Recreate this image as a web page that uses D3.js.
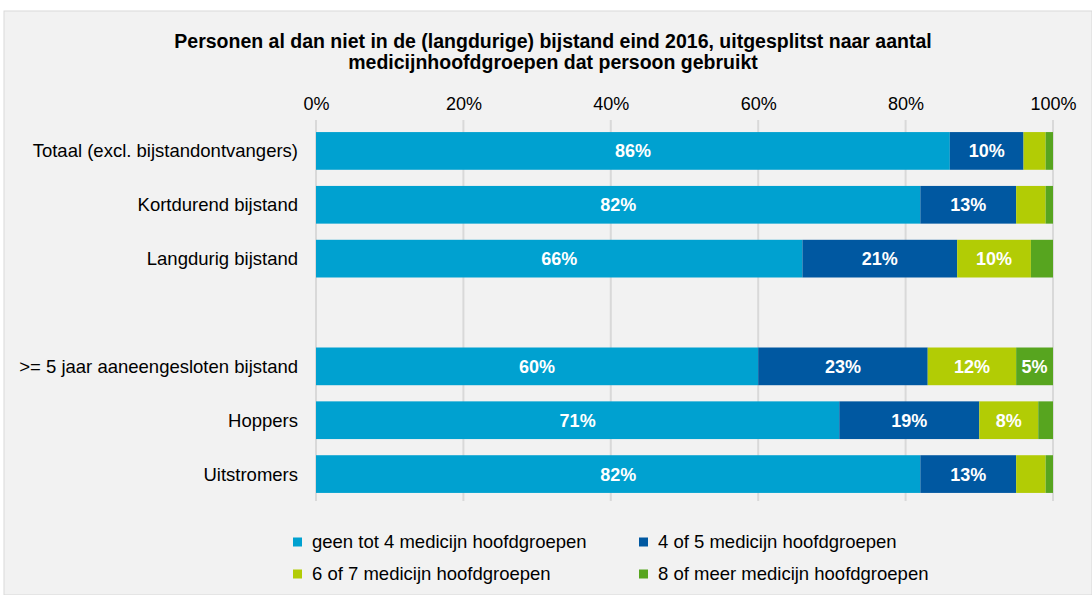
<!DOCTYPE html>
<html>
<head>
<meta charset="utf-8">
<script src="https://cdn.jsdelivr.net/npm/d3@7"></script>
<style>
  body { margin: 0; background: #fff; }
  text { font-family: "Liberation Sans", Arial, sans-serif; }
</style>
</head>
<body>
<div class="canvas"></div>
<script>
const categories = [
  "Totaal (excl. bijstandontvangers)",
  "Kortdurend bijstand",
  "Langdurig bijstand",
  "",
  ">= 5 jaar aaneengesloten bijstand",
  "Hoppers",
  "Uitstromers"
];
const seriesNames = [
  "geen tot 4 medicijn hoofdgroepen",
  "4 of 5 medicijn hoofdgroepen",
  "6 of 7 medicijn hoofdgroepen",
  "8 of meer medicijn hoofdgroepen"
];
const geenTot4 = [86, 82, 66, null, 60, 71, 82];
const vierOf5 = [10, 13, 21, null, 23, 19, 13];
const zesOf7 = [3, 4, 10, null, 12, 8, 4];
const achtOfMeer = [1, 1, 3, null, 5, 2, 1];
const tickValues = [0, 20, 40, 60, 80, 100];
const colors = ["#00a1d0", "#0058a1", "#b2cc05", "#57a51f"];

const width = 1092;
const height = 595;
const margin = { top: 120, right: 39, bottom: 95, left: 316 };

const svg = d3.select(".canvas").append("svg")
  .attr("width", width)
  .attr("height", height);

svg.append("rect")
  .attr("x", 4).attr("y", 11)
  .attr("width", width - 4).attr("height", height - 11)
  .attr("fill", "#f2f2f2")
  .attr("stroke", "#d9d9d9");

// title
const title = svg.append("text")
  .attr("text-anchor", "middle")
  .attr("font-size", 19.5)
  .attr("font-weight", "bold")
  .attr("fill", "#000");
title.append("tspan").attr("x", 553).attr("y", 48)
  .text("Personen al dan niet in de (langdurige) bijstand eind 2016, uitgesplitst naar aantal");
title.append("tspan").attr("x", 553).attr("y", 69)
  .text("medicijnhoofdgroepen dat persoon gebruikt");

const x = d3.scaleLinear().domain([0, 100]).range([margin.left, width - margin.right]);
const y = d3.scaleBand()
  .domain(d3.range(categories.length))
  .range([124, 501])
  .paddingInner(0.3)
  .paddingOuter(0.15);

// grid
svg.append("g").selectAll("line")
  .data(tickValues)
  .join("line")
  .attr("x1", d => x(d)).attr("x2", d => x(d))
  .attr("y1", margin.top).attr("y2", 501)
  .attr("stroke", "#d9d9d9")
  .attr("stroke-width", 2);

// top axis labels
const axis = svg.append("g")
  .attr("transform", `translate(0, ${margin.top})`)
  .call(d3.axisTop(x).tickValues(tickValues).tickFormat(d => d + "%").tickSize(0).tickPadding(10));
axis.select(".domain").remove();
axis.selectAll("text")
  .attr("font-size", 18)
  .attr("font-family", "Liberation Sans, Arial, sans-serif")
  .attr("fill", "#000");

// category labels
svg.append("g").selectAll("text")
  .data(categories)
  .join("text")
  .attr("x", 298)
  .attr("y", (d, i) => y(i) + y.bandwidth() / 2)
  .attr("dy", "0.35em")
  .attr("text-anchor", "end")
  .attr("font-size", 18.5)
  .attr("fill", "#000")
  .text(d => d);

const table = categories.map((c, i) => ({
  idx: i,
  s0: geenTot4[i], s1: vierOf5[i], s2: zesOf7[i], s3: achtOfMeer[i]
})).filter(d => d.s0 !== null);

const stack = d3.stack().keys(["s0", "s1", "s2", "s3"]);
const layers = stack(table);

const layer = svg.append("g").selectAll("g")
  .data(layers)
  .join("g")
  .attr("fill", (d, i) => colors[i]);

layer.selectAll("rect")
  .data(d => d)
  .join("rect")
  .attr("x", d => x(d[0]))
  .attr("y", d => y(d.data.idx))
  .attr("width", d => x(d[1]) - x(d[0]))
  .attr("height", y.bandwidth());

layer.selectAll("text")
  .data(d => d.filter(p => p[1] - p[0] >= 5))
  .join("text")
  .attr("x", d => (x(d[0]) + x(d[1])) / 2)
  .attr("y", d => y(d.data.idx) + y.bandwidth() / 2)
  .attr("dy", "0.36em")
  .attr("text-anchor", "middle")
  .attr("font-size", 18)
  .attr("font-weight", "bold")
  .attr("fill", "#fff")
  .text(d => Math.round(d[1] - d[0]) + "%");

// legend
const legendPos = [[293, 542], [639, 542], [293, 574], [639, 574]];
const legend = svg.append("g").selectAll("g")
  .data(seriesNames)
  .join("g")
  .attr("transform", (d, i) => `translate(${legendPos[i][0]}, ${legendPos[i][1]})`);
legend.append("rect")
  .attr("x", 0).attr("y", -4.5)
  .attr("width", 9).attr("height", 9)
  .attr("fill", (d, i) => colors[i]);
legend.append("text")
  .attr("x", 19)
  .attr("dy", "0.35em")
  .attr("font-size", 18.5)
  .attr("fill", "#000")
  .text(d => d);
</script>
</body>
</html>
